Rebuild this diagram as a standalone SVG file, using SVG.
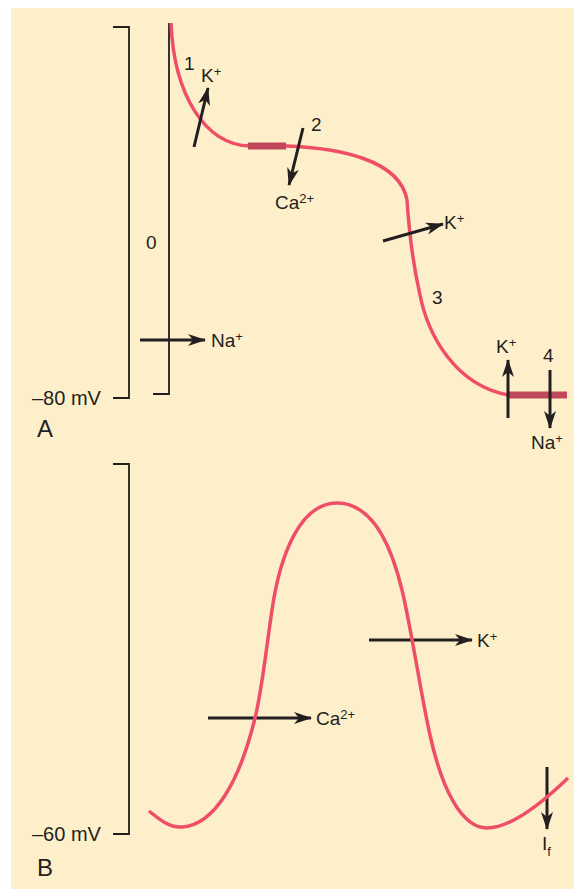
<svg xmlns="http://www.w3.org/2000/svg" width="574" height="889" viewBox="0 0 574 889">
<style>
.bg{fill:#FEEFCB}
.ax{fill:none;stroke:#231F20;stroke-width:1.8}
.ap{fill:none;stroke:#EE4F66;stroke-width:3.5;stroke-linecap:butt}
.thick{fill:none;stroke:#C1485C;stroke-width:7}
.arr{fill:none;stroke:#231F20;stroke-width:3;marker-end:url(#ah)}
text{font-family:"Liberation Sans",Arial,sans-serif;fill:#231F20;font-size:19px}
.mv{font-size:20px}
.sup{font-size:13px}
.big{font-size:24px}
</style>
<defs>
<marker id="ah" markerUnits="userSpaceOnUse" markerWidth="19" markerHeight="14" refX="17" refY="6" orient="auto" viewBox="0 0 19 12">
<path d="M0,0 L18,6 L0,12 L5,6 Z" fill="#231F20"/>
</marker>
</defs>
<rect class="bg" x="11" y="8" width="563" height="881"/>

<g id="panelA-axes">
<path class="ax" d="M113,27 H129 V398 H113"/>
<path class="ax" d="M169,23 V394 H153"/>
<text class="mv" x="32" y="405">–80 mV</text>
<text class="big" x="37" y="437">A</text>
</g>

<g id="panelA-curve">
<path class="ap" d="M171,23 C174,95 205,145 250,146 L286,146 C340,148 400,160 407,200 C409,230 412,260 420,295 C428,335 455,385 508,395"/>
<path class="thick" d="M248,146 H286"/>
<path class="thick" d="M507,395 H567"/>
</g>

<g id="phase-labels">
<text x="184" y="70">1</text>
<text x="311" y="131">2</text>
<text x="146" y="249">0</text>
<text x="432" y="304">3</text>
<text x="543" y="362">4</text>
</g>

<g id="connectors">
<line class="arr" x1="194" y1="147" x2="208" y2="88"/>
<line class="arr" x1="303" y1="128" x2="289" y2="185"/>
<line class="arr" x1="383" y1="241" x2="443" y2="224"/>
<line class="arr" x1="140" y1="340" x2="205" y2="340"/>
<line class="arr" x1="508" y1="418" x2="508" y2="360"/>
<line class="arr" x1="550" y1="370" x2="550" y2="428"/>
<line class="arr" x1="208" y1="718" x2="311" y2="718"/>
<line class="arr" x1="369" y1="640" x2="472" y2="640"/>
<line class="arr" x1="547" y1="767" x2="547" y2="829"/>
</g>

<g id="ion-labels-A">
<text x="201" y="82">K<tspan class="sup" dy="-6">+</tspan></text>
<text x="275" y="209">Ca<tspan class="sup" dy="-6">2+</tspan></text>
<text x="444" y="229">K<tspan class="sup" dy="-6">+</tspan></text>
<text x="211" y="347">Na<tspan class="sup" dy="-6">+</tspan></text>
<text x="496" y="353">K<tspan class="sup" dy="-6">+</tspan></text>
<text x="531" y="449">Na<tspan class="sup" dy="-6">+</tspan></text>
</g>

<g id="panelB-axes">
<path class="ax" d="M113,464 H129 V834 H113"/>
<text class="mv" x="32" y="841">–60 mV</text>
<text class="big" x="37" y="876">B</text>
</g>

<g id="panelB-curve">
<path class="ap" d="M149,811 C160,820 170,828 182,827 C215,825 240,780 255,718 C262,690 266,650 272,610 C280,555 300,503 337,503 C370,503 390,540 402,590 C412,632 420,690 430,735 C442,790 462,828 487,828 C510,828 540,805 568,778"/>
</g>

<g id="ion-labels-B">
<text x="316" y="725">Ca<tspan class="sup" dy="-6">2+</tspan></text>
<text x="477" y="647">K<tspan class="sup" dy="-6">+</tspan></text>
<text x="542" y="850">I<tspan class="sup" dy="6">f</tspan></text>
</g>
</svg>
